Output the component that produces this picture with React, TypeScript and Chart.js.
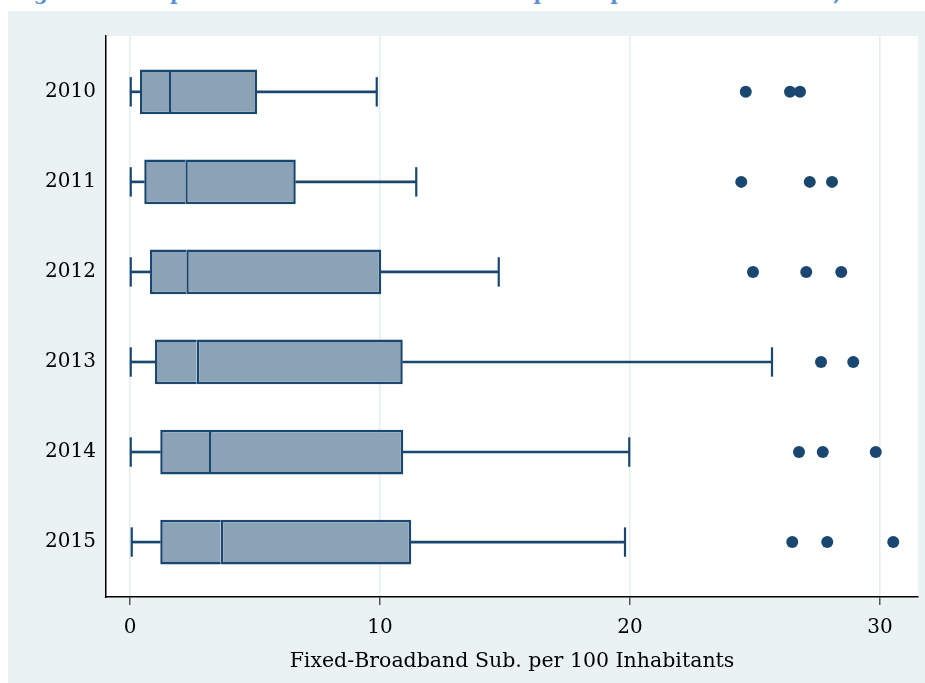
import React, { useEffect, useRef } from 'react';
import { Chart, registerables } from 'chart.js';

Chart.register(...registerables);

const years = ['2010', '2011', '2012', '2013', '2014', '2015'];
const whiskerLow = [0.03, 0.03, 0.03, 0.03, 0.03, 0.07];
const q1 = [0.4, 0.57, 0.8, 1.0, 1.21, 1.21];
const median = [1.56, 2.21, 2.25, 2.67, 3.16, 3.63];
const q3 = [5.08, 6.63, 10.05, 10.91, 10.93, 11.25];
const whiskerHigh = [9.87, 11.45, 14.75, 25.68, 19.97, 19.8];
const outliers2010 = [24.63, 26.4, 26.8];
const outliers2011 = [24.45, 27.19, 28.08];
const outliers2012 = [24.92, 27.05, 28.45];
const outliers2013 = [27.64, 28.93];
const outliers2014 = [26.76, 27.71, 29.83];
const outliers2015 = [26.49, 27.89, 30.53];
const outliers = [outliers2010, outliers2011, outliers2012, outliers2013, outliers2014, outliers2015];

const xTitle = 'Fixed-Broadband Sub. per 100 Inhabitants';
const figTitle = 'Figure 2: Box plot of Fixed-Broadband Subscriptions per 100 Inhabitants, 2010-2015';

const NAVY = '#1a476f';
const BOXFILL = '#8ca3b7';
const BG = '#eaf2f3';
const FONT = 'DejaVu Serif';

const plotBg = {
  id: 'plotBg',
  beforeDraw(chart: any) {
    const { ctx, chartArea } = chart;
    ctx.save();
    ctx.fillStyle = '#ffffff';
    ctx.fillRect(chartArea.left, chartArea.top, chartArea.right - chartArea.left, chartArea.bottom - chartArea.top);
    ctx.restore();
  },
};

export default function App() {
  const ref = useRef<HTMLCanvasElement>(null);

  useEffect(() => {
    const idx = years.map((_, i) => i);
    const chart = new Chart(ref.current as HTMLCanvasElement, {
      type: 'bar',
      data: {
        datasets: [
          {
            label: 'lower whisker',
            data: idx.map((i) => ({ x: [whiskerLow[i], q1[i]], y: i })),
            backgroundColor: NAVY,
            borderWidth: 0,
            barThickness: 2,
            grouped: false,
          } as any,
          {
            label: 'upper whisker',
            data: idx.map((i) => ({ x: [q3[i], whiskerHigh[i]], y: i })),
            backgroundColor: NAVY,
            borderWidth: 0,
            barThickness: 2,
            grouped: false,
          } as any,
          {
            label: 'q1-median',
            data: idx.map((i) => ({ x: [q1[i], median[i]], y: i })),
            backgroundColor: BOXFILL,
            borderColor: NAVY,
            borderWidth: { left: 2.5, top: 2.5, bottom: 2.5, right: 0 },
            borderSkipped: false,
            inflateAmount: 0,
            barPercentage: 0.497,
            categoryPercentage: 1,
            grouped: false,
          } as any,
          {
            label: 'median-q3',
            data: idx.map((i) => ({ x: [median[i], q3[i]], y: i })),
            backgroundColor: BOXFILL,
            borderColor: NAVY,
            borderWidth: { left: 2.5, top: 2.5, bottom: 2.5, right: 2.5 },
            borderSkipped: false,
            inflateAmount: 0,
            barPercentage: 0.497,
            categoryPercentage: 1,
            grouped: false,
          } as any,
          {
            type: 'scatter',
            label: 'caps',
            data: idx.flatMap((i) => [
              { x: whiskerLow[i], y: i },
              { x: whiskerHigh[i], y: i },
            ]),
            pointStyle: 'line',
            rotation: 90,
            radius: 14.7,
            borderColor: NAVY,
            borderWidth: 2.2,
          } as any,
          {
            type: 'scatter',
            label: 'outliers',
            data: idx.flatMap((i) => outliers[i].map((v) => ({ x: v, y: i }))),
            pointStyle: 'circle',
            radius: 6,
            backgroundColor: NAVY,
            borderWidth: 0,
          } as any,
        ],
      },
      options: {
        indexAxis: 'y',
        animation: false,
        responsive: true,
        maintainAspectRatio: false,
        events: [],
        layout: { autoPadding: false, padding: { left: 0, top: 25, right: 7, bottom: 0 } },
        plugins: {
          legend: { display: false },
          tooltip: { enabled: false },
          title: { display: false },
        },
        scales: {
          x: {
            type: 'linear',
            position: 'bottom',
            offset: false,
            min: -0.96,
            max: 31.52,
            ticks: {
              stepSize: 10,
              includeBounds: false,
              autoSkip: false,
              maxRotation: 0,
              color: '#000',
              padding: 11,
              font: { family: FONT, size: 20 },
            },
            grid: {
              color: '#e4edf0',
              lineWidth: 1.5,
              offset: false,
              drawTicks: true,
              tickLength: 8,
              tickColor: '#555',
              tickWidth: 1.5,
            },
            border: { display: true, color: '#000', width: 1.5 },
            title: {
              display: true,
              text: xTitle,
              color: '#000',
              font: { family: FONT, size: 20.5 },
              padding: { top: 0, bottom: 9 },
            },
            afterFit: (s: any) => {
              s.height = 86;
              s.paddingLeft = 0;
              s.paddingRight = 0;
            },
          },
          y: {
            type: 'linear',
            offset: false,
            min: -0.62,
            max: 5.61,
            reverse: true,
            ticks: {
              stepSize: 1,
              includeBounds: false,
              autoSkip: false,
              color: '#000',
              padding: 10,
              font: { family: FONT, size: 20 },
              callback: (v: any) => (Number.isInteger(v) && years[v] !== undefined ? years[v] : ''),
            },
            grid: { display: false, drawTicks: false, offset: false },
            border: { display: true, color: '#000', width: 1.5 },
            afterFit: (s: any) => {
              s.width = 98;
              s.paddingTop = 0;
              s.paddingBottom = 0;
            },
          },
        },
      } as any,
      plugins: [plotBg],
    });
    return () => chart.destroy();
  }, []);

  return (
    <div style={{ position: 'fixed', left: 8, top: 0, width: 917, height: 683 }}>
      <div style={{ height: 11, overflow: 'hidden', background: '#fff' }}>
        <div
          style={{
            marginTop: -17,
            marginLeft: 4,
            fontFamily: FONT,
            fontWeight: 'bold',
            fontSize: 20,
            lineHeight: '20px',
            color: '#5b8fd6',
            whiteSpace: 'nowrap',
          }}
        >
          {figTitle}
        </div>
      </div>
      <div style={{ position: 'relative', width: 917, height: 672, background: BG }}>
        <canvas ref={ref} />
      </div>
    </div>
  );
}
